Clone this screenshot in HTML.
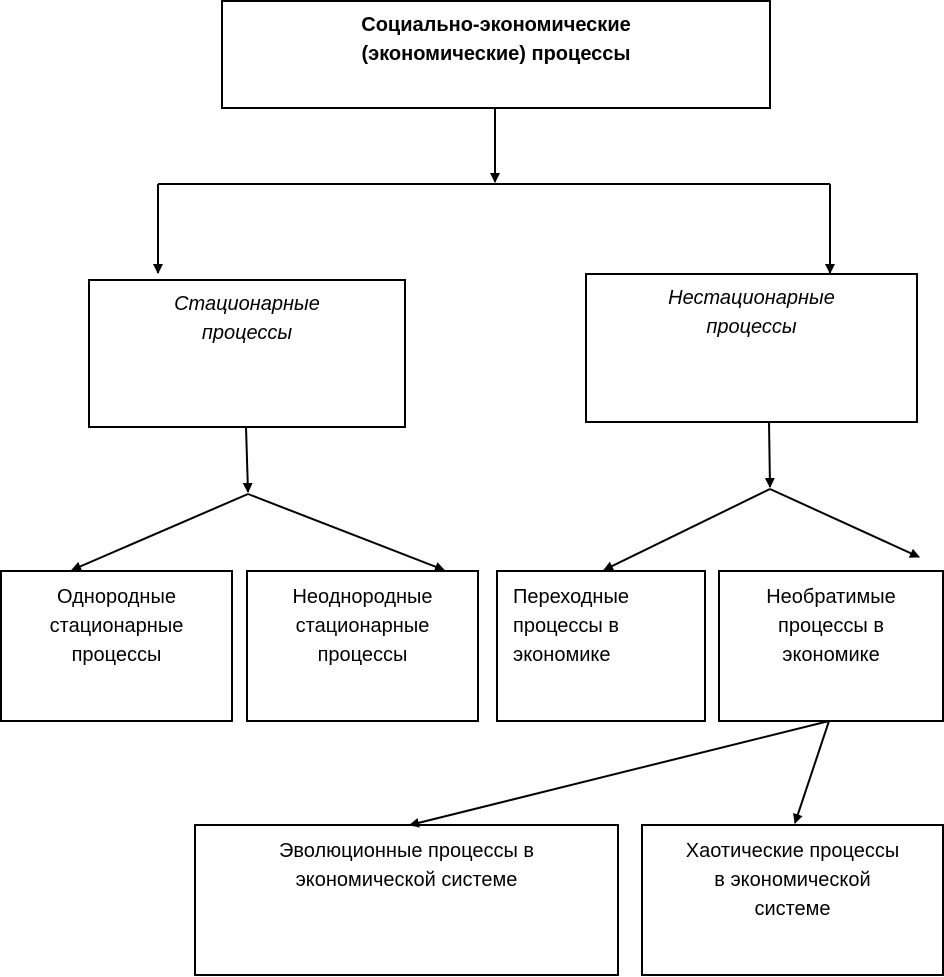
<!DOCTYPE html>
<html><head><meta charset="utf-8"><style>
body{margin:0;background:#fff;width:944px;height:977px;overflow:hidden;position:relative;font-family:"Liberation Sans",Arial,sans-serif;}
.b{position:absolute;border:2px solid #000;box-sizing:border-box;text-align:center;font-size:20px;line-height:29px;color:#000;}
svg{position:absolute;left:0;top:0}
</style></head><body>
<svg width="944" height="977">
<defs><marker id="a" markerWidth="10" markerHeight="12" refX="9" refY="5" orient="auto" markerUnits="userSpaceOnUse"><path d="M0,0 L10,5 L0,10 z" fill="#000"/></marker></defs>
<g stroke="#000" stroke-width="2" fill="none">
<line x1="495" y1="108" x2="495" y2="182" marker-end="url(#a)"/>
<line x1="158" y1="184" x2="830" y2="184"/>
<line x1="158" y1="184" x2="158" y2="273" marker-end="url(#a)"/>
<line x1="830" y1="184" x2="830" y2="273" marker-end="url(#a)"/>
<line x1="246" y1="427" x2="248" y2="492" marker-end="url(#a)"/>
<line x1="248" y1="494" x2="72" y2="570" marker-end="url(#a)"/>
<line x1="248" y1="494" x2="444" y2="570" marker-end="url(#a)"/>
<line x1="769" y1="422" x2="770" y2="487" marker-end="url(#a)"/>
<line x1="770" y1="489" x2="604" y2="570" marker-end="url(#a)"/>
<line x1="770" y1="489" x2="919" y2="557" marker-end="url(#a)"/>
<line x1="829" y1="721" x2="410" y2="825" marker-end="url(#a)"/>
<line x1="829" y1="721" x2="795" y2="823" marker-end="url(#a)"/>
</g></svg>
<div class="b" style="left:221px;top:0;width:550px;height:109px;font-weight:bold;padding-top:9px;">Социально-экономические<br>(экономические) процессы</div>
<div class="b" style="left:88px;top:279px;width:318px;height:149px;font-style:italic;padding-top:9px;">Стационарные<br>процессы</div>
<div class="b" style="left:585px;top:273px;width:333px;height:150px;font-style:italic;padding-top:9px;">Нестационарные<br>процессы</div>
<div class="b" style="left:0;top:570px;width:233px;height:152px;padding-top:11px;">Однородные<br>стационарные<br>процессы</div>
<div class="b" style="left:246px;top:570px;width:233px;height:152px;padding-top:11px;">Неоднородные<br>стационарные<br>процессы</div>
<div class="b" style="left:496px;top:570px;width:210px;height:152px;padding-top:11px;text-align:left;padding-left:15px;">Переходные<br>процессы в<br>экономике</div>
<div class="b" style="left:718px;top:570px;width:226px;height:152px;padding-top:11px;">Необратимые<br>процессы в<br>экономике</div>
<div class="b" style="left:194px;top:824px;width:425px;height:152px;padding-top:11px;">Эволюционные процессы в<br>экономической системе</div>
<div class="b" style="left:641px;top:824px;width:303px;height:152px;padding-top:11px;">Хаотические процессы<br>в экономической<br>системе</div>
</body></html>
